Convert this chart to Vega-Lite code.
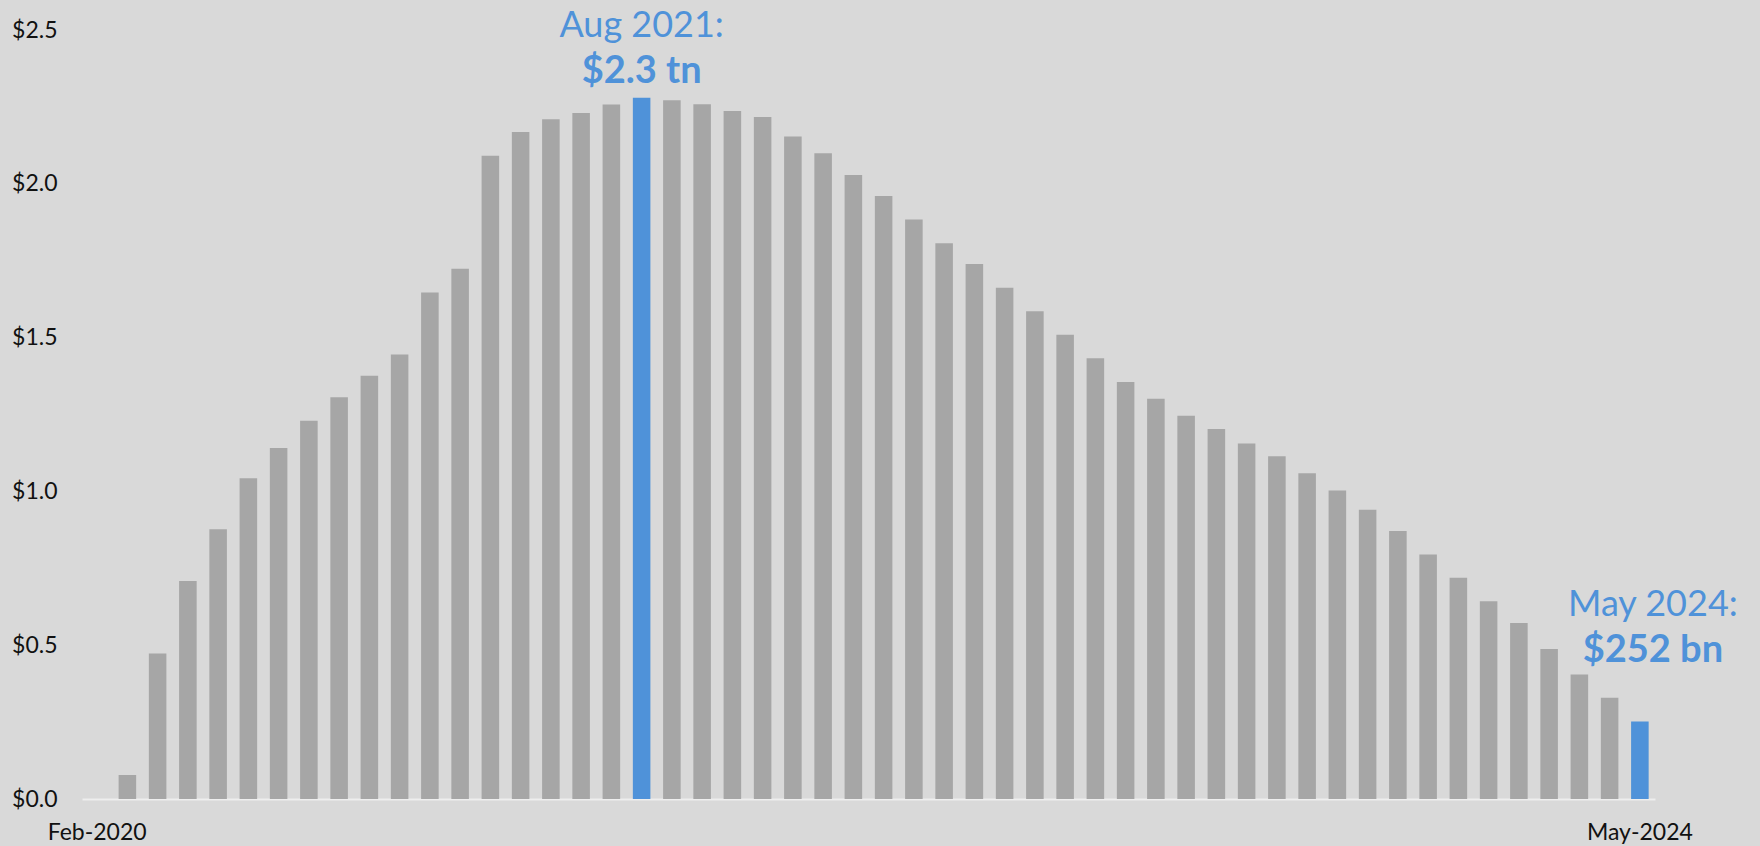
{
  "$schema": "https://vega.github.io/schema/vega-lite/v6.json",
  "width": 1573,
  "height": 769,
  "autosize": {"type": "none"},
  "padding": {"left": 82, "top": 30, "right": 105, "bottom": 47},
  "background": "#d9d9d9",
  "config": {
    "view": {"stroke": null},
    "font": "Lato",
    "axis": {"labelFont": "Lato", "labelColor": "#111111", "labelFontSize": 23, "grid": false, "ticks": false, "tickSize": 0}
  },
  "data": {
    "values": [
      {"month": "Feb-2020", "value": 0},
      {"month": "Mar-2020", "value": 0.078},
      {"month": "Apr-2020", "value": 0.473},
      {"month": "May-2020", "value": 0.709},
      {"month": "Jun-2020", "value": 0.877},
      {"month": "Jul-2020", "value": 1.043},
      {"month": "Aug-2020", "value": 1.141},
      {"month": "Sep-2020", "value": 1.23},
      {"month": "Oct-2020", "value": 1.306},
      {"month": "Nov-2020", "value": 1.376},
      {"month": "Dec-2020", "value": 1.445},
      {"month": "Jan-2021", "value": 1.647},
      {"month": "Feb-2021", "value": 1.724},
      {"month": "Mar-2021", "value": 2.091},
      {"month": "Apr-2021", "value": 2.168},
      {"month": "May-2021", "value": 2.21},
      {"month": "Jun-2021", "value": 2.23},
      {"month": "Jul-2021", "value": 2.258},
      {"month": "Aug-2021", "value": 2.28, "note": "Aug 2021:", "amount": "$2.3 tn"},
      {"month": "Sep-2021", "value": 2.272},
      {"month": "Oct-2021", "value": 2.259},
      {"month": "Nov-2021", "value": 2.237},
      {"month": "Dec-2021", "value": 2.217},
      {"month": "Jan-2022", "value": 2.154},
      {"month": "Feb-2022", "value": 2.099},
      {"month": "Mar-2022", "value": 2.029},
      {"month": "Apr-2022", "value": 1.96},
      {"month": "May-2022", "value": 1.884},
      {"month": "Jun-2022", "value": 1.807},
      {"month": "Jul-2022", "value": 1.739},
      {"month": "Aug-2022", "value": 1.662},
      {"month": "Sep-2022", "value": 1.586},
      {"month": "Oct-2022", "value": 1.509},
      {"month": "Nov-2022", "value": 1.433},
      {"month": "Dec-2022", "value": 1.356},
      {"month": "Jan-2023", "value": 1.301},
      {"month": "Feb-2023", "value": 1.246},
      {"month": "Mar-2023", "value": 1.203},
      {"month": "Apr-2023", "value": 1.156},
      {"month": "May-2023", "value": 1.114},
      {"month": "Jun-2023", "value": 1.059},
      {"month": "Jul-2023", "value": 1.003},
      {"month": "Aug-2023", "value": 0.94},
      {"month": "Sep-2023", "value": 0.871},
      {"month": "Oct-2023", "value": 0.795},
      {"month": "Nov-2023", "value": 0.719},
      {"month": "Dec-2023", "value": 0.643},
      {"month": "Jan-2024", "value": 0.572},
      {"month": "Feb-2024", "value": 0.488},
      {"month": "Mar-2024", "value": 0.405},
      {"month": "Apr-2024", "value": 0.329},
      {"month": "May-2024", "value": 0.252, "note": "May 2024:", "amount": "$252 bn"}
    ]
  },
  "encoding": {
    "x": {
      "field": "month",
      "type": "ordinal",
      "sort": null,
      "scale": {"paddingInner": 0.42, "paddingOuter": 0.21},
      "axis": {
        "title": null,
        "values": ["Feb-2020", "May-2024"],
        "labelAngle": 0,
        "labelBaseline": "alphabetic",
        "labelPadding": 40,
        "domain": true,
        "domainColor": "#eeeeee",
        "domainWidth": 2
      }
    },
    "y": {
      "field": "value",
      "type": "quantitative",
      "scale": {"domain": [0, 2.5], "nice": false},
      "axis": {
        "title": null,
        "values": [0, 0.5, 1, 1.5, 2, 2.5],
        "format": "$.1f",
        "domain": false,
        "labelPadding": 25
      }
    }
  },
  "layer": [
    {
      "mark": {"type": "bar"},
      "encoding": {
        "color": {
          "condition": {"test": "datum.month === 'Aug-2021' || datum.month === 'May-2024'", "value": "#4f92d9"},
          "value": "#a6a6a6"
        }
      }
    },
    {
      "transform": [{"filter": "datum.month === 'Aug-2021'"}],
      "mark": {"type": "text", "align": "center", "baseline": "alphabetic", "dy": -61, "fontSize": 36, "color": "#4f92d9"},
      "encoding": {"text": {"field": "note"}}
    },
    {
      "transform": [{"filter": "datum.month === 'Aug-2021'"}],
      "mark": {"type": "text", "align": "center", "baseline": "alphabetic", "dy": -15, "fontSize": 38, "fontWeight": "bold", "color": "#4f92d9"},
      "encoding": {"text": {"field": "amount"}}
    },
    {
      "transform": [{"filter": "datum.month === 'May-2024'"}],
      "mark": {"type": "text", "align": "center", "baseline": "alphabetic", "dx": 13, "dy": -105, "fontSize": 36, "color": "#4f92d9"},
      "encoding": {"text": {"field": "note"}}
    },
    {
      "transform": [{"filter": "datum.month === 'May-2024'"}],
      "mark": {"type": "text", "align": "center", "baseline": "alphabetic", "dx": 13, "dy": -59, "fontSize": 38, "fontWeight": "bold", "color": "#4f92d9"},
      "encoding": {"text": {"field": "amount"}}
    }
  ]
}
